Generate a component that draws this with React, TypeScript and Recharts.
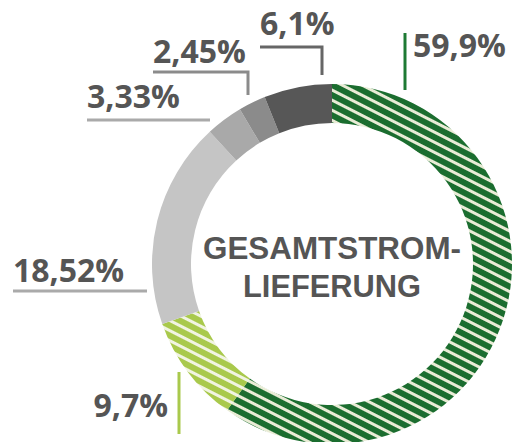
import { PieChart, Pie, Cell } from "recharts";

// Anteile der Gesamtstromlieferung, im Uhrzeigersinn ab 12 Uhr
const shareNames = ["gruen", "hellgruen", "grau1", "grau2", "grau3", "grau4"];
const shareValues = [59.9, 9.7, 18.52, 3.33, 2.45, 6.1];
const shareLabels = ["59,9%", "9,7%", "18,52%", "3,33%", "2,45%", "6,1%"];

const fills = [
  "url(#hatchDark)",
  "url(#hatchLight)",
  "#c5c5c5",
  "#a9a9a9",
  "#8b8b8b",
  "#575757",
];

// label layout, offsets relative to the pie centre
type LabelLayout = {
  tx: number;
  ty: number;
  anchor: "start" | "end";
  line: number[][];
  lineColor: string;
};

const labelLayout: LabelLayout[] = [
  { tx: 81, ty: -207, anchor: "start", line: [[73, -231], [73, -174]], lineColor: "#1e7a34" },
  { tx: -164, ty: 153, anchor: "end", line: [[-153, 108], [-153, 170]], lineColor: "#a9c94c" },
  { tx: -319, ty: 18, anchor: "start", line: [[-319, 27], [-185, 27]], lineColor: "#aaaaaa" },
  { tx: -245, ty: -156, anchor: "start", line: [[-245, -144], [-122, -144]], lineColor: "#aaaaaa" },
  { tx: -179, ty: -201, anchor: "start", line: [[-179, -192], [-84, -192], [-84, -169]], lineColor: "#8b8b8b" },
  { tx: -72, ty: -229, anchor: "start", line: [[-72, -217], [-10, -217], [-10, -189]], lineColor: "#666666" },
];

const data = shareNames.map((name, i) => ({
  name,
  value: shareValues[i],
  label: shareLabels[i],
}));

function renderLabel(props: any) {
  const { cx, cy, index } = props;
  const l = labelLayout[index];
  const pts = l.line.map(([x, y]) => `${cx + x},${cy + y}`).join(" ");
  return (
    <g key={`lbl-${index}`}>
      <polyline points={pts} fill="none" stroke={l.lineColor} strokeWidth={3} />
      <text
        x={cx + l.tx}
        y={cy + l.ty}
        textAnchor={l.anchor}
        fill="#555555"
        fontFamily="'Open Sans', sans-serif"
        fontWeight={700}
        fontSize={32}
      >
        {shareLabels[index]}
      </text>
    </g>
  );
}

export default function App() {
  const cx = 332;
  const cy = 264;
  return (
    <div style={{ position: "absolute", left: 0, top: 0, background: "#fff" }}>
      <PieChart width={515} height={442} margin={{ top: 0, right: 0, bottom: 0, left: 0 }}>
        <defs>
          <pattern
            id="hatchDark"
            width={9}
            height={9}
            patternUnits="userSpaceOnUse"
            patternTransform="rotate(27)"
          >
            <rect width={9} height={9} fill="#1b6d2f" />
            <rect y={0} width={9} height={3} fill="#e9ecd6" />
          </pattern>
          <pattern
            id="hatchLight"
            width={9}
            height={9}
            patternUnits="userSpaceOnUse"
            patternTransform="rotate(27)"
          >
            <rect width={9} height={9} fill="#a9c94c" />
            <rect y={0} width={9} height={3} fill="#f1f4e2" />
          </pattern>
        </defs>
        <Pie
          data={data}
          dataKey="value"
          cx={cx}
          cy={cy}
          innerRadius={141}
          outerRadius={180}
          startAngle={90}
          endAngle={-270}
          stroke="none"
          label={renderLabel}
          labelLine={false}
          isAnimationActive={false}
        >
          {data.map((d, i) => (
            <Cell key={d.name} fill={fills[i]} />
          ))}
        </Pie>
        <text
          x={cx}
          y={259}
          textAnchor="middle"
          fill="#555555"
          fontFamily="'Liberation Sans', Arial, sans-serif"
          fontWeight={700}
          fontSize={32}
          textLength={258}
          lengthAdjust="spacingAndGlyphs"
        >
          GESAMTSTROM-
        </text>
        <text
          x={cx}
          y={297}
          textAnchor="middle"
          fill="#555555"
          fontFamily="'Liberation Sans', Arial, sans-serif"
          fontWeight={700}
          fontSize={32}
          textLength={178}
          lengthAdjust="spacingAndGlyphs"
        >
          LIEFERUNG
        </text>
      </PieChart>
    </div>
  );
}
